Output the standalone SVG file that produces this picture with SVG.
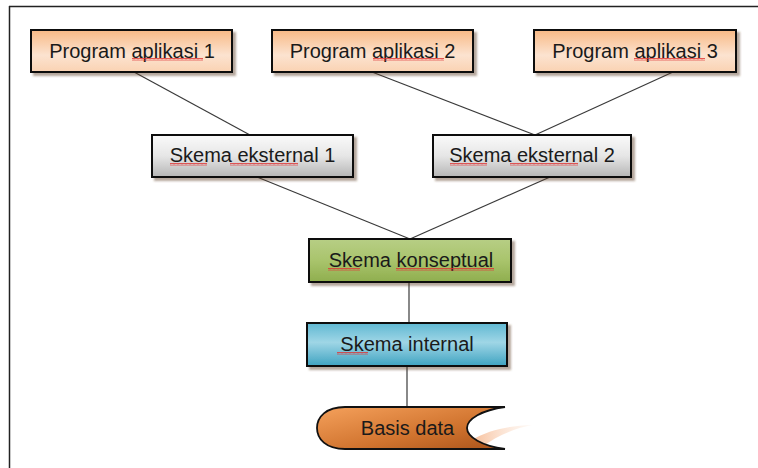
<svg xmlns="http://www.w3.org/2000/svg" width="758" height="468" viewBox="0 0 758 468">
<style>
  .box { stroke: #111; stroke-width: 2; filter: url(#sh); }
  .lbl { font-family: "Liberation Sans", Arial, sans-serif; font-size: 20px; fill: #1a1a1a; text-anchor: middle; }
  .con line { stroke: #3a3a3a; stroke-width: 1.2; }
  .sq { fill: url(#squig); }
</style>
<defs>
  <filter id="sh" x="-10%" y="-20%" width="130%" height="150%">
    <feDropShadow dx="3" dy="3" stdDeviation="1.2" flood-color="#5a3a20" flood-opacity="0.45"/>
  </filter>
  <linearGradient id="gOr" x1="0" y1="0" x2="0" y2="1">
    <stop offset="0" stop-color="#F8B985"/>
    <stop offset="0.6" stop-color="#FCE3D0"/>
    <stop offset="1" stop-color="#FAD2B2"/>
  </linearGradient>
  <linearGradient id="gGr" x1="0" y1="0" x2="0" y2="1">
    <stop offset="0" stop-color="#FAFAFA"/>
    <stop offset="0.5" stop-color="#E6E6E6"/>
    <stop offset="1" stop-color="#B5B5B5"/>
  </linearGradient>
  <linearGradient id="gGn" x1="0" y1="0" x2="0" y2="1">
    <stop offset="0" stop-color="#B7CE85"/>
    <stop offset="0.5" stop-color="#A9C46C"/>
    <stop offset="1" stop-color="#8FAE4E"/>
  </linearGradient>
  <linearGradient id="gBl" x1="0" y1="0" x2="0" y2="1">
    <stop offset="0" stop-color="#5FB8D2"/>
    <stop offset="0.45" stop-color="#9FD6E6"/>
    <stop offset="1" stop-color="#3FA3C1"/>
  </linearGradient>
  <linearGradient id="gDb" x1="0" y1="0" x2="1" y2="1">
    <stop offset="0" stop-color="#F5A15C"/>
    <stop offset="0.6" stop-color="#D0732E"/>
    <stop offset="1" stop-color="#A9531B"/>
  </linearGradient>
  <linearGradient id="gFl" x1="0" y1="0" x2="1" y2="0">
    <stop offset="0" stop-color="#F6B489" stop-opacity="0.9"/>
    <stop offset="1" stop-color="#FBE2D0" stop-opacity="0.2"/>
  </linearGradient>
  <pattern id="squig" width="4" height="3" patternUnits="userSpaceOnUse">
    <path d="M0 2.5 L1 0.5 L2 2.5 L3 0.5 L4 2.5" fill="none" stroke="#E03434" stroke-width="0.8"/>
  </pattern>
</defs>

<rect width="758" height="468" fill="#ffffff"/>
<g id="frame">
  <line x1="9.5" y1="6" x2="9.5" y2="468" stroke="#222" stroke-width="1.5"/>
  <line x1="9" y1="6.5" x2="758" y2="6.5" stroke="#222" stroke-width="1.5"/>
</g>

<g id="connectors" class="con">
  <line x1="134" y1="72" x2="250" y2="135"/>
  <line x1="372" y1="72" x2="535" y2="135"/>
  <line x1="673" y1="72" x2="535" y2="135"/>
  <line x1="257" y1="177" x2="410" y2="239"/>
  <line x1="550" y1="177" x2="410" y2="239"/>
  <line x1="409" y1="282" x2="409" y2="323"/>
  <line x1="407" y1="366" x2="407" y2="407"/>
</g>

<g id="pa1">
  <rect class="box" x="31" y="30" width="201" height="42" fill="url(#gOr)"/>
  <text class="lbl" x="132" y="57.5">Program aplikasi 1</text>
  <rect class="sq" x="132" y="58" width="71" height="3"/>
</g>
<g id="pa2">
  <rect class="box" x="272" y="30" width="201" height="42" fill="url(#gOr)"/>
  <text class="lbl" x="372.5" y="57.5">Program aplikasi 2</text>
  <rect class="sq" x="373" y="58" width="71" height="3"/>
</g>
<g id="pa3">
  <rect class="box" x="534" y="30" width="202" height="42" fill="url(#gOr)"/>
  <text class="lbl" x="635" y="57.5">Program aplikasi 3</text>
  <rect class="sq" x="634" y="58" width="71" height="3"/>
</g>
<g id="se1">
  <rect class="box" x="152" y="135" width="201" height="42" fill="url(#gGr)"/>
  <text class="lbl" x="252.5" y="162">Skema eksternal 1</text>
  <rect class="sq" x="170" y="163" width="37" height="3"/>
  <rect class="sq" x="230" y="163" width="68" height="3"/>
</g>
<g id="se2">
  <rect class="box" x="433" y="135" width="198" height="42" fill="url(#gGr)"/>
  <text class="lbl" x="532" y="162">Skema eksternal 2</text>
  <rect class="sq" x="450" y="163" width="37" height="3"/>
  <rect class="sq" x="510" y="163" width="68" height="3"/>
</g>
<g id="sk">
  <rect class="box" x="309" y="239" width="202" height="43" fill="url(#gGn)"/>
  <text class="lbl" x="411" y="267">Skema konseptual</text>
  <rect class="sq" x="328" y="268" width="32" height="3"/>
  <rect class="sq" x="396" y="268" width="98" height="3"/>
</g>
<g id="si">
  <rect class="box" x="307" y="323" width="200" height="43" fill="url(#gBl)"/>
  <text class="lbl" x="407" y="351">Skema internal</text>
  <rect class="sq" x="337" y="352" width="31" height="3"/>
</g>
<g id="bd">
  <path d="M470 441 C490 429 510 426 532 425 C512 429 495 437 482 447 Z" fill="url(#gFl)"/>
  <path d="M345 407 L505 407 C482 410 467 419 467 428 C467 437 482 446 505 449 L345 449 C326 449 317 439 317 428 C317 417 326 407 345 407 Z" fill="url(#gDb)" stroke="#111" stroke-width="1.8"/>
  <text class="lbl" x="407.5" y="435">Basis data</text>
</g>
</svg>
